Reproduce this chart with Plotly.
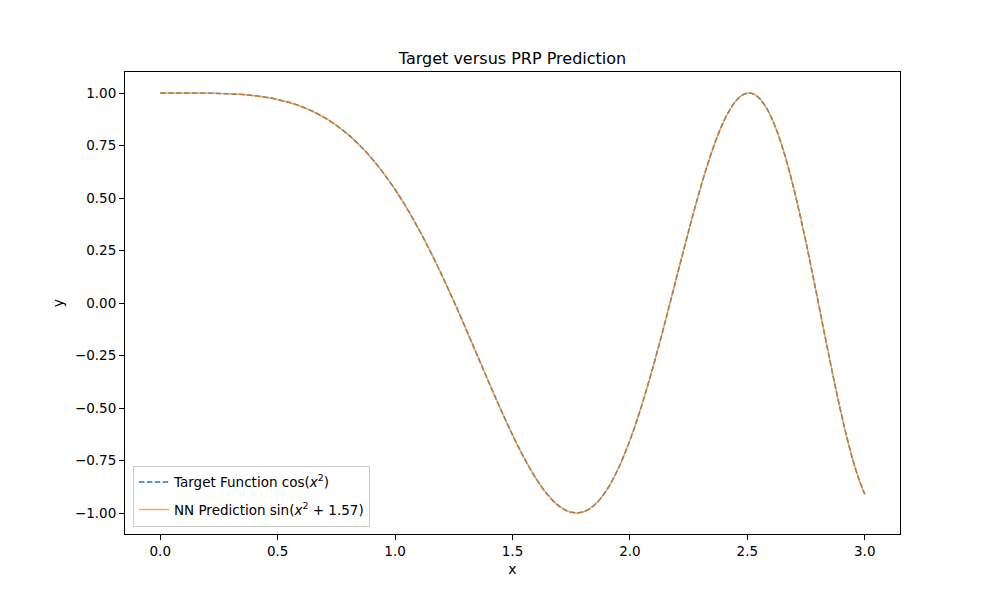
import plotly.graph_objects as go

# values (the two series overlap);
# sampled more densely where the curve oscillates faster
x_vals = [0.00, 0.05, 0.10, 0.15, 0.20, 0.25, 0.30, 0.35, 0.40, 0.45,
          0.50, 0.55, 0.60, 0.65, 0.70, 0.75, 0.80, 0.85, 0.90, 0.95,
          1.00, 1.05, 1.10, 1.15, 1.20, 1.25, 1.30, 1.35, 1.40, 1.45,
          1.50, 1.55, 1.60, 1.65, 1.70, 1.75, 1.80, 1.85, 1.90, 1.95,
          2.000, 2.025, 2.050, 2.075, 2.100, 2.125, 2.150, 2.175, 2.200, 2.225,
          2.250, 2.275, 2.300, 2.325, 2.350, 2.375, 2.400, 2.425, 2.450, 2.475,
          2.500, 2.525, 2.550, 2.575, 2.600, 2.625, 2.650, 2.675, 2.700, 2.725,
          2.750, 2.775, 2.800, 2.825, 2.850, 2.875, 2.900, 2.925, 2.950, 2.975,
          3.000]

target_vals = [1.0000, 1.0000, 0.99995, 0.99975, 0.99920, 0.99805, 0.99595, 0.99251, 0.98723, 0.97957,
               0.96891, 0.95460, 0.93590, 0.91207, 0.88233, 0.84592, 0.80210, 0.75016, 0.68950, 0.61965,
               0.54030, 0.45137, 0.35302, 0.24575, 0.13042, 0.00830, -0.11892, -0.24905, -0.37945, -0.50700,
               -0.62817, -0.73908, -0.83558, -0.91345, -0.96852, -0.99687, -0.99516, -0.96080, -0.89229, -0.78943,
               -0.65364, -0.57431, -0.48808, -0.39564, -0.29780, -0.19550, -0.08977, 0.01824, 0.12726, 0.23599,
               0.34300, 0.44685, 0.54602, 0.63903, 0.72421, 0.80057, 0.86623, 0.92006, 0.96087, 0.98761,
               0.99945, 0.99573, 0.97605, 0.94025, 0.88847, 0.82111, 0.73893, 0.64296, 0.53455, 0.41538,
               0.28738, 0.15276, 0.01399, -0.12631, -0.26529, -0.40012, -0.52781, -0.64547, -0.75029, -0.83966,
               -0.91113]

pred_vals = list(target_vals)

x_ticks = [0.0, 0.5, 1.0, 1.5, 2.0, 2.5, 3.0]
y_ticks = [-1.00, -0.75, -0.50, -0.25, 0.00, 0.25, 0.50, 0.75, 1.00]

fig = go.Figure()
fig.add_trace(go.Scatter(x=x_vals, y=target_vals, mode='lines', legendgroup='target',
                         line=dict(color='#1f77b4', width=1.5, dash='5.5px,2.4px', shape='spline'),
                         name='Target Function cos(<i>x</i><sup>2</sup>)'))
fig.add_trace(go.Scatter(x=x_vals, y=pred_vals, mode='lines', legendgroup='pred',
                         line=dict(color='#ff7f0e', width=1.5, shape='spline'), opacity=0.7,
                         name='NN Prediction sin(<i>x</i><sup>2</sup> + 1.57)'))

axis_style = dict(showgrid=False, zeroline=False, showline=True, linecolor='black', linewidth=1,
                  mirror=True, ticks='outside', ticklen=5, tickcolor='black',
                  tickfont=dict(size=13.5, color='black'))

# the page body adds an 8px offset, so the margins are shifted to compensate
fig.update_layout(
    width=1000, height=600,
    paper_bgcolor='white', plot_bgcolor='white',
    font=dict(family='DejaVu Sans', color='black'),
    margin=dict(l=117, r=108, t=64, b=74),
    title=dict(text='Target versus PRP Prediction', x=0.5, xref='paper',
               y=1 - 50 / 600, yanchor='middle', font=dict(size=16)),
    xaxis=dict(range=[-0.15, 3.15], tickvals=x_ticks, ticktext=[f'{t:.1f}' for t in x_ticks],
               title=dict(text='x', font=dict(size=14), standoff=5), **axis_style),
    yaxis=dict(range=[-1.1, 1.1], tickvals=y_ticks, ticktext=[f'{t:.2f}'.replace('-', '\u2212') for t in y_ticks],
               title=dict(text='y', font=dict(size=14), standoff=8), **axis_style),
    legend=dict(x=0.0103, y=0.016, xanchor='left', yanchor='bottom',
                bordercolor='#cccccc', borderwidth=1, bgcolor='rgba(255,255,255,0.8)',
                tracegroupgap=7, font=dict(size=13.5)),
    showlegend=True,
)

fig.write_html("out.html")
